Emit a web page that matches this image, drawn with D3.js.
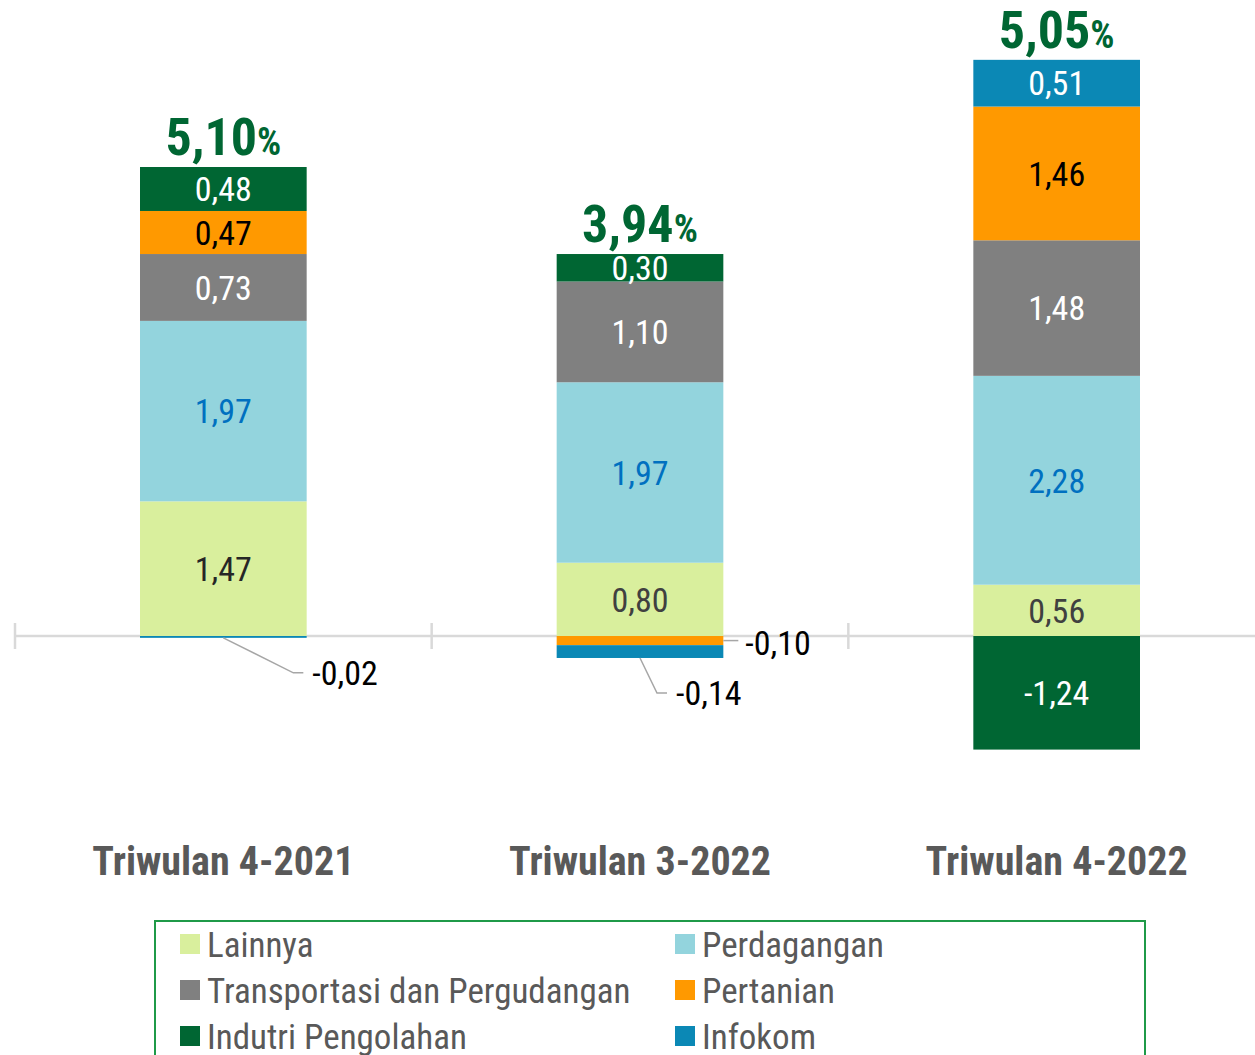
<!DOCTYPE html>
<html>
<head>
<meta charset="utf-8">
<script src="https://cdn.jsdelivr.net/npm/d3@7"></script>
<style>
  body { margin: 0; background: #fff; }
  svg text { font-family: "Liberation Sans Narrow", "Arial Narrow", "Roboto Condensed", sans-serif; }
</style>
</head>
<body>
<svg id="chart" width="1255" height="1055"></svg>
<script>
// categories and series (stack order from bottom)
var categories = ["Triwulan 4-2021", "Triwulan 3-2022", "Triwulan 4-2022"];
var seriesNames = ["Lainnya", "Perdagangan", "Transportasi dan Pergudangan", "Pertanian", "Indutri Pengolahan", "Infokom"];
var seriesColors = ["#d9ef9d", "#93d4dd", "#808080", "#ff9900", "#006633", "#0b88b5"];
var labelColors = ["#262626", "#0070c0", "#ffffff", "#000000", "#ffffff", "#ffffff"];

var lainnya     = [1.47, 0.80, 0.56];
var perdagangan = [1.97, 1.97, 2.28];
var transportasi = [0.73, 1.10, 1.48];
var pertanian   = [0.47, -0.10, 1.46];
var industri    = [0.48, 0.30, -1.24];
var infokom     = [-0.02, -0.14, 0.51];
var totals      = [5.10, 3.94, 5.05];

var values = [lainnya, perdagangan, transportasi, pertanian, industri, infokom];

var svg = d3.select("#chart");

var x = d3.scaleBand()
    .domain(categories)
    .range([15, 1265])
    .paddingInner(0.6)
    .paddingOuter(0.3);

var y = d3.scaleLinear()
    .domain([-2, 6.5])
    .range([636 + 2 * 91.6, 636 - 6.5 * 91.6]);

function fmt(v) {
    return v.toFixed(2).replace(".", ",");
}

// build stacked segments, positives up and negatives down from zero
var segments = [];
var stackTops = [];
categories.forEach(function (cat, ci) {
    var pos = 0, neg = 0;
    for (var si = 0; si < values.length; si++) {
        var v = values[si][ci];
        var y0, y1;
        if (v >= 0) { y0 = pos; y1 = pos + v; pos = y1; }
        else { y0 = neg + v; y1 = neg; neg = y0; }
        segments.push({cat: cat, ci: ci, si: si, value: v, y0: y0, y1: y1});
    }
    stackTops.push(pos);
});

// axis line with tick marks at band edges
var step = x.step();
svg.append("line")
    .attr("x1", 15).attr("x2", 1255)
    .attr("y1", y(0)).attr("y2", y(0))
    .attr("stroke", "#d9d9d9").attr("stroke-width", 2.5);
categories.forEach(function (cat) {
    var tx = x(cat) - step * 0.3;
    svg.append("line")
        .attr("x1", tx).attr("x2", tx)
        .attr("y1", y(0) - 13).attr("y2", y(0) + 13)
        .attr("stroke", "#d9d9d9").attr("stroke-width", 2.5);
});

svg.selectAll("rect.seg")
    .data(segments)
    .enter().append("rect")
    .attr("class", "seg")
    .attr("x", function (d) { return x(d.cat); })
    .attr("width", x.bandwidth())
    .attr("y", function (d) { return y(d.y1); })
    .attr("height", function (d) { return Math.max(y(d.y0) - y(d.y1), 1.5); })
    .attr("fill", function (d) { return seriesColors[d.si]; });

// labels inside segments big enough
var inside = segments.filter(function (d) { return Math.abs(d.value) >= 0.25; });
svg.selectAll("text.val")
    .data(inside)
    .enter().append("text")
    .attr("class", "val")
    .attr("x", function (d) { return x(d.cat) + x.bandwidth() / 2; })
    .attr("y", function (d) { return y((d.y0 + d.y1) / 2); })
    .attr("dy", "0.36em")
    .attr("text-anchor", "middle")
    .attr("font-size", 34)
    .attr("fill", function (d) {
        if (d.si === 0 && d.ci > 0) return "#404040";
        return labelColors[d.si];
    })
    .text(function (d) { return fmt(d.value); });

// small negative segments get leader lines
var outside = segments.filter(function (d) { return Math.abs(d.value) < 0.25; });
outside.forEach(function (d) {
    var cx = x(d.cat) + x.bandwidth() / 2;
    var segMid = y((d.y0 + d.y1) / 2);
    var pts, lx, ly;
    if (d.si === 3) {
        // label to the right of the bar
        var rx = x(d.cat) + x.bandwidth();
        pts = [[rx, segMid], [rx + 15, segMid]];
        lx = rx + 22; ly = segMid + 2;
    } else {
        var by = y(d.y0);
        var dx = d.ci === 0 ? 70 : 17;
        ly = by + 35;
        pts = [[cx, by], [cx + dx, ly], [cx + dx + 10, ly]];
        lx = cx + dx + 19;
    }
    svg.append("path")
        .attr("d", d3.line()(pts))
        .attr("fill", "none")
        .attr("stroke", "#a6a6a6")
        .attr("stroke-width", 1.5);
    svg.append("text")
        .attr("x", lx).attr("y", ly)
        .attr("dy", "0.36em")
        .attr("font-size", 34)
        .attr("fill", "#000")
        .text(fmt(d.value));
});

// totals above the bars
categories.forEach(function (cat, ci) {
    var t = svg.append("text")
        .attr("x", x(cat) + x.bandwidth() / 2)
        .attr("y", y(stackTops[ci]) - 12)
        .attr("text-anchor", "middle")
        .attr("fill", "#006633");
    t.append("tspan").attr("font-size", 52).attr("font-weight", "bold").text(fmt(totals[ci]));
    t.append("tspan").attr("font-size", 38).attr("font-weight", "bold").text("%");
});

// category labels
svg.selectAll("text.cat")
    .data(categories)
    .enter().append("text")
    .attr("class", "cat")
    .attr("x", function (d) { return x(d) + x.bandwidth() / 2; })
    .attr("y", 875)
    .attr("text-anchor", "middle")
    .attr("font-size", 40)
    .attr("font-weight", "bold")
    .attr("fill", "#595959")
    .text(function (d) { return d; });

// legend
svg.append("rect")
    .attr("x", 155).attr("y", 921)
    .attr("width", 990).attr("height", 160)
    .attr("fill", "none")
    .attr("stroke", "#1f9a48")
    .attr("stroke-width", 2);

var legendOrder = [0, 1, 2, 3, 4, 5];
var legend = svg.selectAll("g.leg")
    .data(legendOrder)
    .enter().append("g")
    .attr("class", "leg")
    .attr("transform", function (d, i) {
        var col = i % 2, row = Math.floor(i / 2);
        return "translate(" + (col === 0 ? 180 : 675) + "," + (944 + row * 46) + ")";
    });
legend.append("rect")
    .attr("x", 0).attr("y", -10)
    .attr("width", 20).attr("height", 20)
    .attr("fill", function (d) { return seriesColors[d]; });
legend.append("text")
    .attr("x", 27).attr("y", 0)
    .attr("dy", "0.36em")
    .attr("font-size", 35)
    .attr("fill", "#595959")
    .text(function (d) { return seriesNames[d]; });
</script>
</body>
</html>
